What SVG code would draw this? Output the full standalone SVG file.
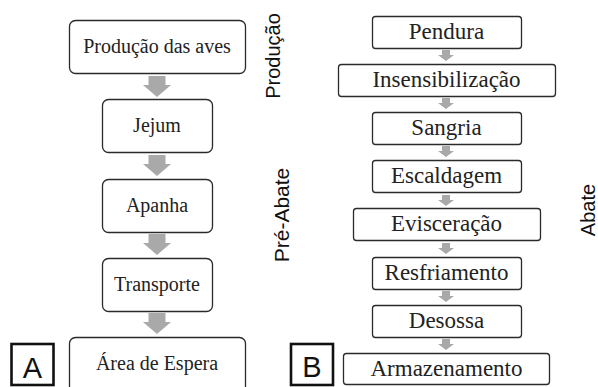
<svg xmlns="http://www.w3.org/2000/svg" width="598" height="387" viewBox="0 0 598 387">
<style>
.box{fill:#fff;stroke:#2a2a2a;stroke-width:1.3}
.tl{font-family:"Liberation Serif","Times New Roman",Tinos,"DejaVu Serif",serif;font-size:20px;fill:#222;text-anchor:middle}
.tr{font-family:"Liberation Serif","Times New Roman",Tinos,"DejaVu Serif",serif;font-size:23px;fill:#222;text-anchor:middle}
.arr{fill:#a9a9a9}
.lab{font-family:"Liberation Sans",Arial,sans-serif;font-size:20px;fill:#111;text-anchor:middle}
.pan{fill:none;stroke:#111;stroke-width:2.6}
.pl{font-family:"Liberation Sans",Arial,sans-serif;font-size:29px;fill:#111;text-anchor:middle}
</style>
<rect width="598" height="387" fill="#fff"/>
<g id="connectors">
<path class="arr" d="M148.5 76 H165.5 V85 H171 L157 97 L143 85 H148.5 Z"/>
<path class="arr" d="M148.5 155 H165.5 V164 H171 L157 176 L143 164 H148.5 Z"/>
<path class="arr" d="M148.5 234 H165.5 V243 H171 L157 255 L143 243 H148.5 Z"/>
<path class="arr" d="M148.5 313 H165.5 V322 H171 L157 334 L143 322 H148.5 Z"/>
<path class="arr" d="M442 50 H450 V55 H454 L446 61 L438 55 H442 Z"/>
<path class="arr" d="M442 98 H450 V103 H454 L446 109 L438 103 H442 Z"/>
<path class="arr" d="M442 146 H450 V151 H454 L446 157 L438 151 H442 Z"/>
<path class="arr" d="M442 195 H450 V200 H454 L446 206 L438 200 H442 Z"/>
<path class="arr" d="M442 243 H450 V248 H454 L446 254 L438 248 H442 Z"/>
<path class="arr" d="M442 291 H450 V296 H454 L446 302 L438 296 H442 Z"/>
<path class="arr" d="M442 339 H450 V344 H454 L446 350 L438 344 H442 Z"/>
</g>
<g id="producao-aves"><rect class="box" x="69.5" y="20.5" width="176" height="53" rx="6"/><text class="tl" x="157" y="53">Produção das aves</text></g>
<g id="jejum"><rect class="box" x="102.5" y="99.5" width="110" height="53" rx="6"/><text class="tl" x="157" y="132">Jejum</text></g>
<g id="apanha"><rect class="box" x="102.5" y="179.5" width="110" height="53" rx="6"/><text class="tl" x="157" y="212">Apanha</text></g>
<g id="transporte"><rect class="box" x="102.5" y="258.5" width="110" height="53" rx="6"/><text class="tl" x="157" y="291">Transporte</text></g>
<g id="area-espera"><rect class="box" x="69.5" y="337.5" width="176" height="60" rx="6"/><text class="tl" x="157" y="370">Área de Espera</text></g>
<g id="pendura"><rect class="box" x="372.5" y="16.5" width="149" height="32" rx="3"/><text class="tr" x="446.5" y="39">Pendura</text></g>
<g id="insensibilizacao"><rect class="box" x="338.5" y="64.5" width="217" height="32" rx="3"/><text class="tr" x="446.5" y="87">Insensibilização</text></g>
<g id="sangria"><rect class="box" x="372.5" y="112.5" width="149" height="32" rx="3"/><text class="tr" x="446.5" y="135">Sangria</text></g>
<g id="escaldagem"><rect class="box" x="372.5" y="160.5" width="149" height="32" rx="3"/><text class="tr" x="446.5" y="183">Escaldagem</text></g>
<g id="evisceracao"><rect class="box" x="353.5" y="208.5" width="187" height="32" rx="3"/><text class="tr" x="446.5" y="231">Evisceração</text></g>
<g id="resfriamento"><rect class="box" x="372.5" y="257.5" width="149" height="32" rx="3"/><text class="tr" x="446.5" y="280">Resfriamento</text></g>
<g id="desossa"><rect class="box" x="372.5" y="305.5" width="149" height="32" rx="3"/><text class="tr" x="446.5" y="328">Desossa</text></g>
<g id="armazenamento"><rect class="box" x="343.5" y="353.5" width="206" height="31" rx="3"/><text class="tr" x="446.5" y="376">Armazenamento</text></g>
<g id="label-producao"><text class="lab" transform="translate(280,56) rotate(-90)">Produção</text></g>
<g id="label-preabate"><text class="lab" transform="translate(289,215) rotate(-90)" style="font-size:21px">Pré-Abate</text></g>
<g id="label-abate"><text class="lab" transform="translate(595,210) rotate(-90)">Abate</text></g>
<g id="panel-a"><rect class="pan" x="11.5" y="344" width="42" height="41"/><text class="pl" x="32.5" y="378">A</text></g>
<g id="panel-b"><rect class="pan" x="291" y="344" width="42" height="41"/><text class="pl" x="312" y="377">B</text></g>
</svg>
